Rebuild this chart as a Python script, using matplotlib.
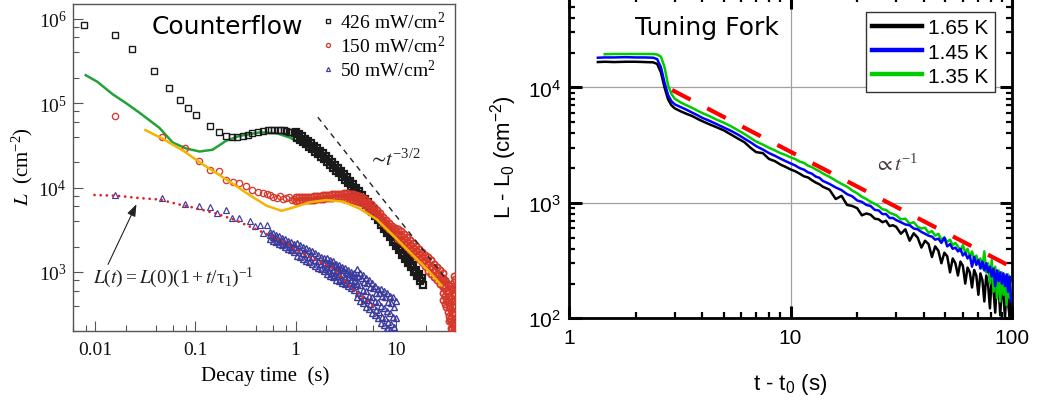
import numpy as np
import matplotlib
matplotlib.use("Agg")
import matplotlib.pyplot as plt
from matplotlib.ticker import LogLocator, NullFormatter, FixedLocator
from matplotlib.lines import Line2D

SERIF = 'Liberation Serif'
SANS = 'Liberation Sans'
plt.rcParams['font.family'] = [SERIF, 'DejaVu Sans']
plt.rcParams['mathtext.fontset'] = 'stix'
plt.rcParams['mathtext.default'] = 'regular'

# ---------------- counterflow decay (left) ----------------
# 426 mW/cm2: early sparse points, then the dense decay record
cf426_t = [0.0077, 0.0156, 0.0234, 0.0386, 0.054, 0.0703, 0.085, 0.1007, 0.139, 0.171, 0.204,
           0.231, 0.259, 0.295, 0.331, 0.371, 0.417, 0.468, 0.525, 0.567, 0.61,
           0.66, 0.71, 0.76, 0.81, 0.86, 0.91, 0.96,
           1.000, 1.035, 1.072, 1.109, 1.148, 1.189, 1.230, 1.274, 1.318, 1.365,
           1.413, 1.462, 1.514, 1.567, 1.622, 1.679, 1.738, 1.799, 1.862, 1.928,
           1.995, 2.065, 2.138, 2.213, 2.291, 2.371, 2.455, 2.541, 2.630, 2.723,
           2.818, 2.917, 3.020, 3.126, 3.236, 3.350, 3.467, 3.589, 3.715, 3.846,
           3.981, 4.121, 4.266, 4.416, 4.571, 4.732, 4.898, 5.070, 5.248, 5.433,
           5.623, 5.821, 6.026, 6.237, 6.457, 6.683, 6.918, 7.161, 7.413, 7.674,
           7.943, 8.222, 8.511, 8.810, 9.120, 9.441, 9.772, 10.12, 10.47, 10.84,
           11.22, 11.61, 12.02, 12.44, 12.88, 13.34, 13.80, 14.29, 14.79, 15.31,
           15.85, 16.41, 16.98, 17.58, 18.20, 18.84]
cf426_L = [8.5e5, 6.4e5, 4.4e5, 2.4e5, 1.49e5, 1.1e5, 8.7e4, 7.3e4, 5.4e4, 4.6e4, 4.1e4,
           3.98e4, 4.0e4, 4.08e4, 4.2e4, 4.37e4, 4.49e4, 4.61e4, 4.78e4, 4.81e4, 4.85e4,
           4.86e4, 4.84e4, 4.78e4, 4.7e4, 4.6e4, 4.5e4, 4.38e4,
           4.56e4, 3.91e4, 4.28e4, 3.68e4, 4.02e4, 3.46e4, 3.78e4, 3.25e4, 3.55e4, 3.05e4,
           3.34e4, 2.86e4, 3.11e4, 2.67e4, 2.91e4, 2.49e4, 2.71e4, 2.32e4, 2.53e4, 2.17e4,
           2.36e4, 2.01e4, 2.18e4, 1.86e4, 2.02e4, 1.72e4, 1.86e4, 1.59e4, 1.72e4, 1.47e4,
           1.59e4, 1.34e4, 1.45e4, 1.22e4, 1.32e4, 1.12e4, 1.20e4, 1.02e4, 1.09e4, 9260,
           9960, 8400, 9010, 7600, 8150, 6880, 7380, 6220, 6670, 5630,
           6040, 5090, 5460, 4610, 4900, 4100, 4360, 3640, 3870, 3240,
           3450, 2880, 3060, 2560, 2720, 2280, 2420, 2030, 2150, 1800,
           1920, 1600, 1700, 1420, 1510, 1270, 1350, 1130, 1200, 1000,
           1060, 890, 950, 790, 840, 700]

# 150 mW/cm2: sparse early points, edges and middle of the dense band, late scatter
cf150_t = [0.0156, 0.0467, 0.078, 0.108, 0.139, 0.171, 0.204, 0.238, 0.273, 0.323, 0.363, 0.424, 0.475,
           0.52, 0.557, 0.6, 0.648, 0.7, 0.75, 0.8, 0.86, 0.92, 0.97]
cf150_L = [7.08e4, 3.93e4, 2.96e4, 2.05e4, 1.62e4, 1.56e4, 1.23e4, 1.17e4, 1.12e4, 1.03e4, 9.3e3, 8.97e3, 8.5e3,
           8.3e3, 8.1e3, 7.7e3, 7.6e3, 7.9e3, 7.4e3, 7.5e3, 7.7e3, 7.2e3, 7.3e3]
cf150_band_t = [1.000, 1.072, 1.148, 1.230, 1.318, 1.413, 1.514, 1.622, 1.738, 1.862,
                1.995, 2.138, 2.291, 2.455, 2.630, 2.818, 3.020, 3.236, 3.467, 3.715,
                3.981, 4.266, 4.571, 4.898, 5.248, 5.623, 6.026, 6.457, 6.918, 7.413,
                7.943, 8.511, 9.120, 9.772, 10.47, 11.22, 12.02, 12.88, 13.80, 14.79,
                15.85, 16.98, 18.20, 19.50, 20.89, 22.39, 23.99, 25.70, 27.54, 29.51]
cf150_band_hi = [7640, 7670, 7710, 7750, 7780, 7820, 7850, 7940, 8040, 8130,
                 8200, 8260, 8320, 8380, 8430, 8470, 8690, 8570, 8450, 8320,
                 8150, 7960, 7670, 7240, 6810, 6380, 5890, 5430, 4960, 4520,
                 4170, 3850, 3550, 3310, 3270, 3060, 2820, 2600, 2400, 2210,
                 2040, 1880, 1720, 1570, 1500, 1370, 1250, 1150, 1050, 970]
cf150_band_lo = [6970, 7000, 7030, 7060, 7100, 7130, 7160, 7240, 7330, 7410,
                 7480, 7530, 7590, 7640, 7690, 7730, 7400, 7300, 7190, 7080,
                 6930, 6780, 6530, 6170, 5790, 5430, 5010, 4620, 4220, 3850,
                 3550, 3270, 3020, 2820, 2480, 2320, 2140, 1970, 1820, 1680,
                 1550, 1430, 1300, 1190, 1035, 944, 861, 794, 724, 668]
cf150_mid_t = [3.020, 3.236, 3.467, 3.715, 3.981, 4.266, 4.571, 4.898, 5.248, 5.623,
               6.026, 6.457, 6.918, 7.413, 7.943, 8.511, 9.120, 9.772, 10.47, 11.22,
               12.02, 12.88, 13.80, 14.79, 15.85, 16.98, 18.20, 19.50, 20.89, 22.39,
               23.99, 25.70, 27.54, 29.51]
cf150_mid_L = [8020, 7910, 7800, 7670, 7520, 7350, 7080, 6680, 6280, 5890,
               5430, 5010, 4570, 4170, 3850, 3550, 3270, 3060, 2850, 2660,
               2460, 2270, 2090, 1930, 1780, 1640, 1500, 1370, 1250, 1140,
               1040, 955, 870, 805]
cf150_tail_t = [30, 30, 30, 30, 31, 31, 31, 31, 32, 32, 32, 32, 33, 33, 33, 33,
                34, 34, 34, 34, 34, 35, 35, 35, 35, 36, 36, 36, 36, 36, 37, 37, 37, 37, 37,
                38, 38, 38, 38, 38, 38, 38, 38, 38, 38,
                38.8, 38.8, 38.8, 38.8, 38.8, 38.8, 38.8, 38.8, 38.8]
cf150_tail_L = [850, 700, 560, 470, 800, 650, 520, 420, 760, 600, 480, 380, 720, 560, 440, 340,
                700, 520, 400, 300, 260, 680, 500, 370, 280, 650, 480, 350, 260, 220, 620, 450, 330, 250, 210,
                900, 760, 640, 540, 450, 380, 320, 270, 230, 205,
                820, 680, 560, 460, 390, 330, 280, 240, 210]

# 50 mW/cm2: sparse early points, then readings across the noisy band
cf50_t = [0.0156, 0.0464, 0.078, 0.109, 0.141, 0.164, 0.2, 0.234, 0.273, 0.35, 0.392, 0.44, 0.475, 0.52]
cf50_L = [8.1e3, 7.45e3, 6.3e3, 6.05e3, 5.96e3, 4.96e3, 5.43e3, 4.4e3, 4.3e3, 4.0e3, 3.5e3, 3.57e3, 2.93e3, 3.57e3]
cf50_band_t = [0.550, 0.589, 0.631, 0.676, 0.724, 0.776, 0.832, 0.891, 0.955, 1.023,
               1.096, 1.175, 1.259, 1.349, 1.445, 1.549, 1.660, 1.778, 1.905, 2.042,
               2.188, 2.344, 2.512, 2.692, 2.884, 3.090, 3.311, 3.548, 3.802, 4.074,
               4.365, 4.677, 5.012, 5.370, 5.754, 6.166, 6.607, 7.079, 7.586, 8.128,
               8.710, 9.333, 10.0]
cf50_band_hi = [2985, 2897, 2754, 2661, 2541, 2455, 2344, 2265, 2138, 2188,
                2089, 1995, 1928, 1820, 1758, 1660, 1603, 1514, 1462, 1445,
                1380, 1334, 1259, 1216, 1148, 1109, 1047, 1012, 966, 1072,
                977, 933, 851, 794, 741, 676, 631, 631, 589, 562,
                525, 501, 457]
cf50_band_mid = [2754, 2570, 2541, 2344, 2317, 2163, 2138, 1995, 1950, 1820,
                 1799, 1660, 1641, 1514, 1496, 1380, 1365, 1259, 1245, 1148,
                 1135, 1047, 1035, 955, 944, 871, 861, 794, 785, 724,
                 692, 617, 589, 525, 501, 457, 437, 398, 372, 347,
                 331, 295, 282]
cf50_band_lo = [2455, 2355, 2239, 2158, 2065, 1972, 1871, 1811, 1718, 1549,
                1496, 1429, 1349, 1303, 1230, 1189, 1122, 1084, 1023, 944,
                891, 861, 813, 785, 741, 716, 676, 653, 617, 501,
                457, 427, 389, 363, 331, 309, 288, 251, 234, 219,
                204, 191, 182]
cf50_fill_t = [1.972, 2.113, 2.265, 2.427, 2.600, 2.786, 2.985, 3.199, 3.428, 3.673,
               3.936, 4.217, 4.519, 4.842, 5.188, 5.559, 5.957, 6.383, 6.839, 7.328,
               7.852, 8.414, 9.016, 9.661]
cf50_fill_up = [1327, 1280, 1247, 1215, 1140, 1110, 1042, 1010, 953, 930,
                871, 897, 860, 766, 740, 655, 640, 564, 560, 514,
                500, 445, 430, 385]
cf50_fill_dn = [1084, 1030, 968, 910, 885, 830, 809, 760, 740, 690,
                676, 569, 540, 485, 460, 415, 400, 357, 340, 294,
                285, 255, 245, 221]

# model curves
fit426_t = [0.0080, 0.0105, 0.0149, 0.0202, 0.0275, 0.0435, 0.0592, 0.0805, 0.110, 0.148, 0.202,
            0.275, 0.44, 0.646, 0.877, 1.19, 1.35]
fit426_L = [2.14e5, 1.78e5, 1.27e5, 1.0e5, 7.7e4, 5.1e4, 3.41e4, 2.9e4, 2.67e4, 2.8e4, 3.57e4,
            4.08e4, 4.5e4, 4.4e4, 3.9e4, 3.2e4, 2.9e4]
fit150_t = [0.0316, 0.0475, 0.0753, 0.110, 0.162, 0.238, 0.349, 0.513, 0.724, 0.948, 1.39, 2.04,
            3.0, 4.4, 6.46, 9.5, 13.9, 20.4, 28.8]
fit150_L = [4.79e4, 3.75e4, 2.73e4, 1.99e4, 1.48e4, 1.1e4, 8.1e3, 6.1e3, 5.3e3, 5.8e3, 6.7e3, 7.1e3,
            6.8e3, 5.6e3, 4.2e3, 2.69e3, 1.71e3, 1.09e3, 690]
fit50_t = [0.0098, 0.0162, 0.0277, 0.044, 0.0646, 0.0948, 0.162, 0.238, 0.405, 0.81, 1.06, 2.38, 3.6, 6.2]
fit50_L = [8.15e3, 8.0e3, 7.5e3, 7.2e3, 6.4e3, 5.8e3, 4.9e3, 4.2e3, 3.2e3, 2.19e3, 1.76e3, 1.1e3, 650, 380]
slope32_t = [1.67, 31.0]
slope32_L = [6.8e4, 865]

cf_labels = ['426 mW/cm$^{2}$', '150 mW/cm$^{2}$', '50 mW/cm$^{2}$']

# ---------------- tuning fork decay (right) ----------------
tf_t = [1.35, 1.45, 1.6, 1.8, 2.0, 2.2, 2.4, 2.5, 2.6, 2.7, 2.8, 2.9, 3.0,
        3.2, 3.4, 3.6, 3.8, 4.0, 4.3, 4.6, 5.0, 5.4, 5.8, 6.2, 6.6, 7.0, 7.5, 8.0, 8.5, 9.0, 9.5,
        10, 10.5, 11, 11.5, 12, 12.5, 13, 13.5, 14, 15, 16, 17, 18, 19, 20, 21, 22, 23, 24, 25,
        26, 27, 28, 29,
        30, 31.5, 33, 34.5, 36, 37.5, 39, 40.5, 42, 43.5, 45, 46.5, 48, 49.5, 51, 52.5, 54, 55.5,
        57, 58.5, 60, 61.5, 63, 64.5, 66, 67.5, 69, 70.5, 72, 73.5, 75, 76.5, 78, 79.5, 81, 82.5,
        84, 85.5, 87, 88.5, 90, 91.5, 93, 94.5, 96, 97.5, 99]
tf_165 = [16600, 16700, 16600, 16700, 16700, 16600, 16500, 16000, 13500, 10000, 7900, 7000, 6600,
          6200, 5900, 5650, 5350, 5100, 4800, 4550, 4250, 3900, 3600, 3350, 3000, 2750, 2700, 2400, 2300, 2150, 2050,
          1950, 1880, 1790, 1700, 1660, 1570, 1500, 1450, 1380, 1300, 1080, 1150, 960, 940, 900, 780,
          810, 790, 730, 720, 680, 700, 630, 640,
          620, 540, 590, 470, 545, 500, 410, 470, 440, 340, 420, 385, 300, 370, 345, 250, 330, 300,
          235, 310, 285, 200, 275, 250, 185, 262, 235, 160, 245, 215, 140, 235, 195, 122, 225, 175,
          112, 212, 185, 106, 205, 155, 102, 195, 135, 104, 175]
tf_145 = [18100, 18200, 18200, 18300, 18200, 18200, 18100, 17600, 15000, 11000, 8600, 7600, 7150,
          6750, 6400, 6050, 5750, 5450, 5150, 4850, 4500, 4200, 3900, 3600, 3350, 3100, 2900, 2700, 2560, 2420, 2300,
          2200, 2110, 2000, 1940, 1840, 1790, 1690, 1650, 1550, 1460, 1360, 1290, 1190, 1140, 1050, 1020,
          960, 940, 870, 860, 800, 800, 740, 740,
          710, 680, 650, 640, 600, 590, 560, 540, 520, 510, 480, 490, 450, 500, 420, 440, 400, 410,
          380, 400, 350, 370, 330, 350, 280, 340, 290, 320, 270, 310, 260, 300, 250, 280, 230, 270,
          190, 260, 210, 250, 200, 245, 190, 240, 170, 230, 140]
tf_135 = [np.nan, 19400, 19500, 19500, 19500, 19500, 19500, 19300, 18500, 15000, 10500, 8800, 8000,
          7400, 7000, 6650, 6300, 6000, 5650, 5300, 4950, 4600, 4250, 3950, 3650, 3400, 3200, 3000, 2850, 2700, 2600,
          2480, 2400, 2280, 2220, 2100, 2040, 1950, 1880, 1800, 1680, 1560, 1460, 1380, 1280, 1210, 1130,
          1080, 1020, 980, 940, 880, 870, 820, 800,
          780, 720, 730, 660, 680, 620, 600, 610, 550, 570, 520, 540, 480, 500, 460, 480, 430, 450,
          420, 380, 430, 370, 400, 340, 380, 320, 350, 300, 330, 270, 380, 250, 300, 200, 320, 170,
          280, 150, 260, 140, 250, 160, 230, 130, 240, 150, 200]
inv_t_t = [2.92, 100.0]
inv_t_L = [9.5e3, 277]
tf_labels = ['1.65 K', '1.45 K', '1.35 K']
tf_colors = ['#000000', '#0000ff', '#00cc00']

# ---------------- figure ----------------
W, H = 1041, 406
fig = plt.figure(figsize=(W / 100, H / 100), dpi=100)


def axes_px(x0, y0, x1, y1):
    return fig.add_axes([x0 / W, 1 - y1 / H, (x1 - x0) / W, (y1 - y0) / H])


# ===== left panel =====
ax1 = axes_px(73, 5, 455, 332)
ax1.set_xscale('log')
ax1.set_yscale('log')
ax1.set_xlim(0.00597, 39.2)
ax1.set_ylim(200, 1.49e6)

sq_style = dict(ls='none', marker='s', ms=4.4, mfc='none', mec='#1a1a1a', mew=1.0)
ci_style = dict(ls='none', marker='o', ms=4.5, mfc='none', mec='#d6382c', mew=0.95)
tr_style = dict(ls='none', marker='^', ms=4.5, mfc='none', mec='#3b3b9e', mew=0.85)
n_sparse426 = 28   # points before the record becomes continuous (t < 1 s)

ax1.plot(fit426_t, fit426_L, color='#22a33a', lw=1.8, zorder=2)
h426, = ax1.plot(cf426_t[:n_sparse426], cf426_L[:n_sparse426], zorder=3, **sq_style)
ax1.plot(cf426_t[n_sparse426:], cf426_L[n_sparse426:], zorder=3,
         **dict(sq_style, mew=1.6))
h150, = ax1.plot(cf150_t, cf150_L, zorder=4, **ci_style)
ax1.plot(cf150_band_t, cf150_band_hi, zorder=4, **dict(ci_style, mew=1.3))
ax1.plot(cf150_band_t, cf150_band_lo, zorder=4, **dict(ci_style, mew=1.3))
ax1.plot(cf150_mid_t, cf150_mid_L, zorder=4, **dict(ci_style, mew=1.3))
ax1.plot(cf150_tail_t, cf150_tail_L, zorder=4, **dict(ci_style, mew=1.2))
ax1.plot(fit150_t, fit150_L, color='#f5b400', lw=1.8, zorder=5)
h50, = ax1.plot(cf50_t, cf50_L, zorder=4, **tr_style)
for band in (cf50_band_hi, cf50_band_mid, cf50_band_lo):
    ax1.plot(cf50_band_t, band, zorder=4, **dict(tr_style, mew=1.0))
for band in (cf50_fill_up, cf50_fill_dn):
    ax1.plot(cf50_fill_t, band, zorder=4, **dict(tr_style, mew=1.0))
ax1.plot(fit50_t, fit50_L, color='#e02424', lw=2.0, ls=(0, (0.01, 2.2)),
         dash_capstyle='round', zorder=6)
ax1.plot(slope32_t, slope32_L, color='#222222', lw=1.0, ls=(0, (4, 3.5)), zorder=6)

ax1.xaxis.set_major_locator(FixedLocator([0.01, 0.1, 1, 10]))
ax1.set_xticklabels(['0.01', '0.1', '1', '10'])
ax1.xaxis.set_minor_locator(LogLocator(base=10, subs=(2, 4, 6, 8), numticks=20))
ax1.xaxis.set_minor_formatter(NullFormatter())
ax1.yaxis.set_major_locator(FixedLocator([1e3, 1e4, 1e5, 1e6]))
ax1.set_yticklabels(['$10^{3}$', '$10^{4}$', '$10^{5}$', '$10^{6}$'])
ax1.yaxis.set_minor_locator(LogLocator(base=10, subs=(2, 4, 6, 8), numticks=20))
ax1.yaxis.set_minor_formatter(NullFormatter())
ax1.tick_params(which='both', direction='in', color='#555555', labelcolor='#111111',
                top=False, right=False, labelsize=14)
ax1.tick_params(which='major', length=7, width=0.8)
ax1.tick_params(which='minor', length=4, width=0.8)
ax1.tick_params(axis='x', pad=7)
ax1.tick_params(axis='y', pad=4.5)
for sp in ax1.spines.values():
    sp.set_color('#555555')
    sp.set_linewidth(1.0)

ax1.set_xlabel('Decay time  (s)', fontsize=15)
ax1.xaxis.set_label_coords(0.503, -0.104)
ax1.set_ylabel(r'$\mathit{L}$  (cm$^{-2}$)', fontsize=15)
ax1.yaxis.set_label_coords(-0.0995, 0.505)

ax1.text(0.403, 0.933, 'Counterflow', transform=ax1.transAxes, ha='center', va='center',
         fontsize=18, family='DejaVu Sans')
ax1.text(5.28, 2.16e4, r'$\sim\!\mathit{t}^{-3/2}$', fontsize=15, ha='left', va='center',
         color='#222222')
ax1.text(0.0094, 865, r'$\mathit{L}(\mathit{t}) = \mathit{L}(0)(1 + \mathit{t}/\tau_1)^{-1}$',
         fontsize=14, ha='left', va='center', color='#222222')
ax1.annotate('', xy=(0.0257, 6.34e3), xytext=(0.01337, 1.23e3),
             arrowprops=dict(arrowstyle='-|>,head_length=0.6,head_width=0.22', color='#222222',
                             lw=0.8, mutation_scale=12, shrinkA=0, shrinkB=0))

ax1.legend([h426, h150, h50], cf_labels, loc='upper right', bbox_to_anchor=(0.974, 0.979),
           frameon=False, prop={'family': SERIF, 'size': 14}, markerscale=0.65,
           handlelength=0.6, handletextpad=0.3, labelspacing=0.15, borderaxespad=0,
           borderpad=0, numpoints=1)

# ===== right panel =====
ax2 = axes_px(569, -3, 1012, 319.3)
ax2.set_xscale('log')
ax2.set_yscale('log')
ax2.set_xlim(1, 100)
ax2.set_ylim(100, 6.2e4)
ax2.set_axisbelow(True)
ax2.grid(which='major', color='#a0a0a0', lw=0.9)

ax2.plot(tf_t, tf_165, color=tf_colors[0], lw=1.8, zorder=3)
ax2.plot(tf_t, tf_135, color=tf_colors[2], lw=1.8, zorder=3)
ax2.plot(tf_t, tf_145, color=tf_colors[1], lw=1.8, zorder=3)
ax2.plot(inv_t_t, inv_t_L, color='#ff0000', lw=3.0, ls=(0, (5, 4.5)), zorder=4)

ax2.set_xticks([1, 10, 100])
ax2.set_xticklabels(['1', '10', '100'])
ax2.xaxis.set_minor_locator(LogLocator(base=10, subs=np.arange(2, 10), numticks=20))
ax2.xaxis.set_minor_formatter(NullFormatter())
ax2.set_yticks([1e2, 1e3, 1e4])
ax2.set_yticklabels(['$10^{2}$', '$10^{3}$', '$10^{4}$'])
ax2.yaxis.set_minor_locator(LogLocator(base=10, subs=np.arange(2, 10), numticks=20))
ax2.yaxis.set_minor_formatter(NullFormatter())
ax2.tick_params(which='both', direction='in', top=True, right=True, color='black',
                labelsize=15)
ax2.tick_params(which='major', length=9, width=2.2)
ax2.tick_params(which='minor', length=4.5, width=1.6)
ax2.tick_params(axis='x', pad=7)
ax2.tick_params(axis='y', pad=6)
for lbl in ax2.get_xticklabels() + ax2.get_yticklabels():
    lbl.set_family(SANS)
for sp in ax2.spines.values():
    sp.set_linewidth(2.0)
    sp.set_color('black')

ax2.set_xlabel('t - t$_0$ (s)', fontsize=16, family=SANS)
ax2.xaxis.set_label_coords(0.499, -0.163)
ax2.set_ylabel('L - L$_0$ (cm$^{-2}$)', fontsize=16, family=SANS)
ax2.yaxis.set_label_coords(-0.113, 0.504)

ax2.text(0.149, 0.904, 'Tuning Fork', transform=ax2.transAxes, ha='left', va='center',
         fontsize=18, family='DejaVu Sans')
ax2.text(23.9, 2.15e3, r'$\propto\mathit{t}^{-1}$', fontsize=15, ha='left', va='center',
         color='#4a3c3c')

tf_handles = [Line2D([], [], color=c, lw=3.2) for c in tf_colors]
leg = ax2.legend(tf_handles, tf_labels, loc='upper right', bbox_to_anchor=(0.9616, 0.950),
                 borderaxespad=0, prop={'family': SANS, 'size': 15}, frameon=True,
                 fancybox=False, edgecolor='#333333', framealpha=1, handlelength=2.4,
                 handletextpad=0.3, labelspacing=0.25, borderpad=0.3)
leg.get_frame().set_linewidth(1.0)

fig.savefig('out.png', dpi=100)
